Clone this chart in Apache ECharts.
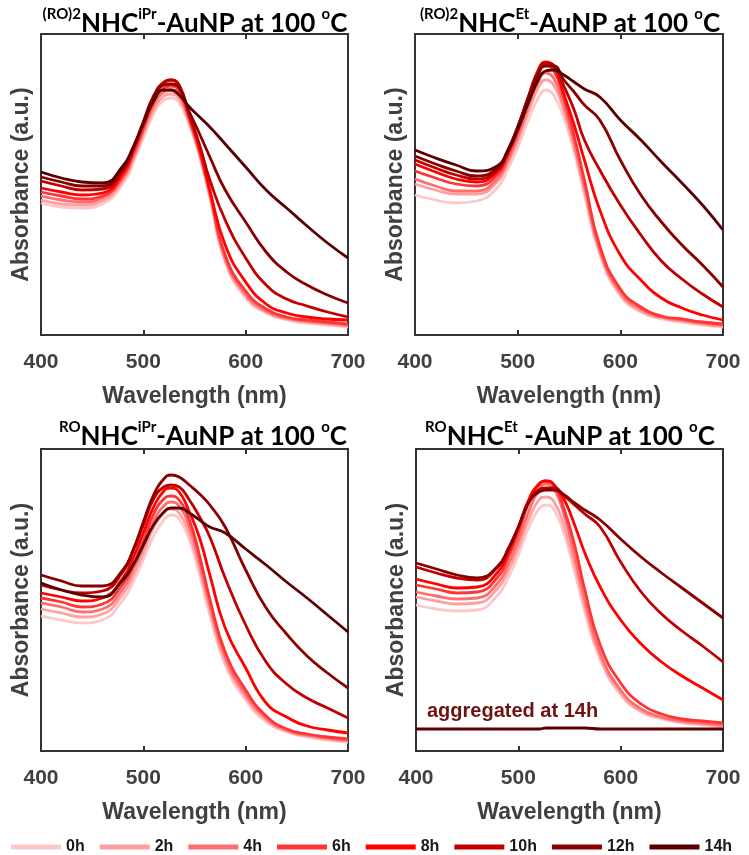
<!DOCTYPE html>
<html><head><meta charset="utf-8">
<script src="https://cdn.jsdelivr.net/npm/echarts@6/dist/echarts.min.js"></script>
<style>html,body{margin:0;padding:0;background:#fff}#c{width:749px;height:855px}</style>
</head><body><div id="c"></div>
<script>
// Wavelength grid (nm)
const wavelengths = [400,420,440,460,480,490,500,510,520,527,535,545,555,565,580,600,620,640,660,680,700];
const hours = ['0h','2h','4h','6h','8h','10h','12h','14h'];
const xTicks = [400, 500, 600, 700];

// Absorbance (a.u.) — (RO)2NHC-iPr
const absRO2iPr = [
  [132,128,127,131,151,172,197,221,235,237,232,210,178,137,73,37,22,15,12,10,8],
  [135,131,130,134,154,175,201,225,239,241,236,212,180,139,75,39,23,16,13,11,9],
  [139,135,133,137,157,178,204,229,243,245,240,214,182,141,77,41,24,17,14,12,10],
  [143,139,136,139,159,181,207,233,247,249,244,216,184,143,80,44,26,18,15,13,11],
  [147,143,140,142,162,184,211,237,252,255,249,220,187,145,90,53,31,22,18,16,15],
  [154,149,145,146,165,186,213,239,253,255,250,220,190,155,115,77,50,36,29,23,18],
  [158,153,149,149,167,187,213,238,250,251,247,223,201,178,145,113,83,63,50,40,32],
  [163,157,153,152,169,188,211,234,245,245,240,228,218,208,191,168,145,127,109,92,77]
];
// (RO)2NHC-Et
const absRO2Et = [
  [140,135,132,134,147,165,187,214,237,245,240,217,183,140,80,39,23,16,13,10,8],
  [151,145,141,141,153,171,194,222,247,255,250,225,188,145,83,41,24,17,14,11,9],
  [156,149,144,144,156,174,198,227,253,262,257,230,192,149,85,43,26,18,15,12,10],
  [164,157,151,149,160,178,203,233,261,270,265,237,199,155,89,46,28,19,16,13,11],
  [171,163,156,153,163,181,207,237,265,273,269,241,210,175,125,80,55,37,27,20,15],
  [175,167,160,156,165,183,208,237,264,272,270,249,225,195,165,130,100,74,56,41,28],
  [179,171,164,159,167,184,208,236,261,269,269,255,243,230,215,175,140,113,90,70,48],
  [185,177,170,164,169,183,205,231,255,264,265,260,253,246,238,215,195,173,152,130,105]
];
// RONHC-iPr
const absROiPr = [
  [135,131,128,131,151,169,191,215,231,236,232,211,176,136,86,51,29,19,14,11,9],
  [142,138,134,137,157,175,198,223,238,242,238,217,182,141,90,54,31,20,15,12,10],
  [148,144,139,142,162,181,204,230,245,249,245,224,188,146,94,57,33,21,16,13,11],
  [153,149,144,147,167,186,210,237,252,255,251,231,195,152,99,61,35,22,17,14,12],
  [158,154,150,153,173,193,218,244,260,263,259,239,213,176,123,83,48,34,25,21,18],
  [166,161,158,160,179,200,226,252,264,266,264,251,234,214,173,126,89,67,53,43,33],
  [176,170,165,165,181,201,229,256,272,276,274,266,257,246,224,181,143,117,95,78,63],
  [168,161,156,154,171,186,206,226,239,243,243,238,231,224,218,202,186,169,153,136,119]
];
// RONHC-Et
const absROEt = [
  [146,142,140,141,156,173,196,223,242,246,241,216,179,139,91,56,39,32,28,26,24],
  [154,150,147,148,163,180,203,231,251,254,249,224,186,145,94,58,40,33,29,27,25],
  [159,155,152,153,168,186,210,239,261,267,262,235,195,151,98,61,42,34,30,28,26],
  [166,162,158,159,174,193,218,248,266,270,266,241,206,161,106,68,47,37,32,30,28],
  [172,167,163,164,179,198,223,251,267,270,266,251,226,198,164,131,107,89,75,63,51],
  [184,178,173,171,184,201,224,249,261,263,263,255,246,237,224,189,159,137,120,105,89],
  [188,182,176,173,185,202,224,248,259,261,261,256,248,241,231,212,194,178,163,148,133],
  [22,22,22,22,22,22,22,22,22,23,23,23,23,23,22,22,22,22,22,22,22]
];

const colors = ['#ffc8c8','#ffa0a0','#ff6e6e','#ff3434','#ff0000','#c00000','#8a0000','#5a0000'];

const panels = [
  {data: absRO2iPr, grid:{left:41, top:34, width:307, height:301}, ymax:301,
   title:'{s|(RO)2}{m|NHC}{s|iPr}{m|-AuNP at 100 }{s|o}{m|C}', tx:190, ty:2},
  {data: absRO2Et, grid:{left:415, top:34, width:308, height:301}, ymax:301,
   title:'{s|(RO)2}{m|NHC}{s|Et}{m|-AuNP at 100 }{s|o}{m|C}', tx:565, ty:2},
  {data: absROiPr, grid:{left:41, top:449, width:307, height:302}, ymax:302,
   title:'{s|RO}{m|NHC}{s|iPr}{m|-AuNP at 100 }{s|o}{m|C}', tx:198, ty:415},
  {data: absROEt, grid:{left:416, top:449, width:307, height:302}, ymax:302,
   title:'{s|RO}{m|NHC}{s|Et}{m| -AuNP at 100 }{s|o}{m|C}', tx:565, ty:415}
];

const axisFont = {fontFamily:'"Liberation Sans", Arial, sans-serif', fontWeight:'bold', color:'#404040'};
const titleRich = {
  m: {fontFamily:'Lato, "Open Sans", sans-serif', fontWeight:'bold', fontSize:26, lineHeight:30, color:'#000', verticalAlign:'bottom'},
  s: {fontFamily:'Lato, "Open Sans", sans-serif', fontWeight:'bold', fontSize:15, lineHeight:15, color:'#000', verticalAlign:'top'}
};

const grids = [], xAxes = [], yAxes = [], series = [], titles = [];
panels.forEach((p, pi) => {
  grids.push(Object.assign({show:true, borderColor:'#333', borderWidth:2, containLabel:false}, p.grid));
  xAxes.push({type:'value', gridIndex:pi, min:xTicks[0], max:xTicks[xTicks.length-1], interval:100,
    axisLine:{show:false}, splitLine:{show:false},
    axisTick:{show:true, inside:true, length:5, lineStyle:{color:'#333', width:2}},
    axisLabel:Object.assign({fontSize:21, margin:17}, axisFont),
    name:'Wavelength (nm)', nameLocation:'middle', nameGap:50,
    nameTextStyle:Object.assign({fontSize:23}, axisFont)});
  xAxes.push({type:'value', gridIndex:pi, position:'top', min:xTicks[0], max:xTicks[xTicks.length-1], interval:100,
    axisLine:{show:false}, splitLine:{show:false}, axisLabel:{show:false},
    axisTick:{show:true, inside:true, length:5, lineStyle:{color:'#333', width:2}}});
  yAxes.push({type:'value', gridIndex:pi, min:0, max:p.ymax,
    axisLine:{show:false}, axisTick:{show:false}, axisLabel:{show:false}, splitLine:{show:false},
    name:'Absorbance (a.u.)', nameLocation:'middle', nameGap:8,
    nameTextStyle:Object.assign({fontSize:23}, axisFont)});
  p.data.forEach((arr, i) => {
    series.push({type:'line', name:hours[i], xAxisIndex:pi*2, yAxisIndex:pi,
      data: wavelengths.map((w, j) => [w, arr[j]]),
      symbol:'none', showSymbol:false, smooth:0.5,
      lineStyle:{width:2.8, color:colors[i]}, itemStyle:{color:colors[i]},
      silent:true, animation:false, z:2+i});
  });
  titles.push({text:p.title, left:p.tx, top:p.ty, textAlign:'center',
    textStyle:{rich:titleRich}});
});

const chart = echarts.init(document.getElementById('c'), null, {renderer:'canvas'});
chart.setOption({
  animation:false,
  backgroundColor:'#fff',
  title:titles,
  grid:grids, xAxis:xAxes, yAxis:yAxes, series:series,
  legend:{data:hours, left:6, top:834, icon:'rect', itemWidth:50, itemHeight:5, itemGap:15,
    selectedMode:false,
    textStyle:{fontFamily:'"Liberation Sans", Arial, sans-serif', fontWeight:'bold', fontSize:16, color:'#1a1a1a'}},
  graphic:[{type:'text', left:427, top:701,
    style:{text:'aggregated at 14h', fill:'#6e1212', font:'bold 20px "Liberation Sans", Arial, sans-serif'}}]
});
</script></body></html>
